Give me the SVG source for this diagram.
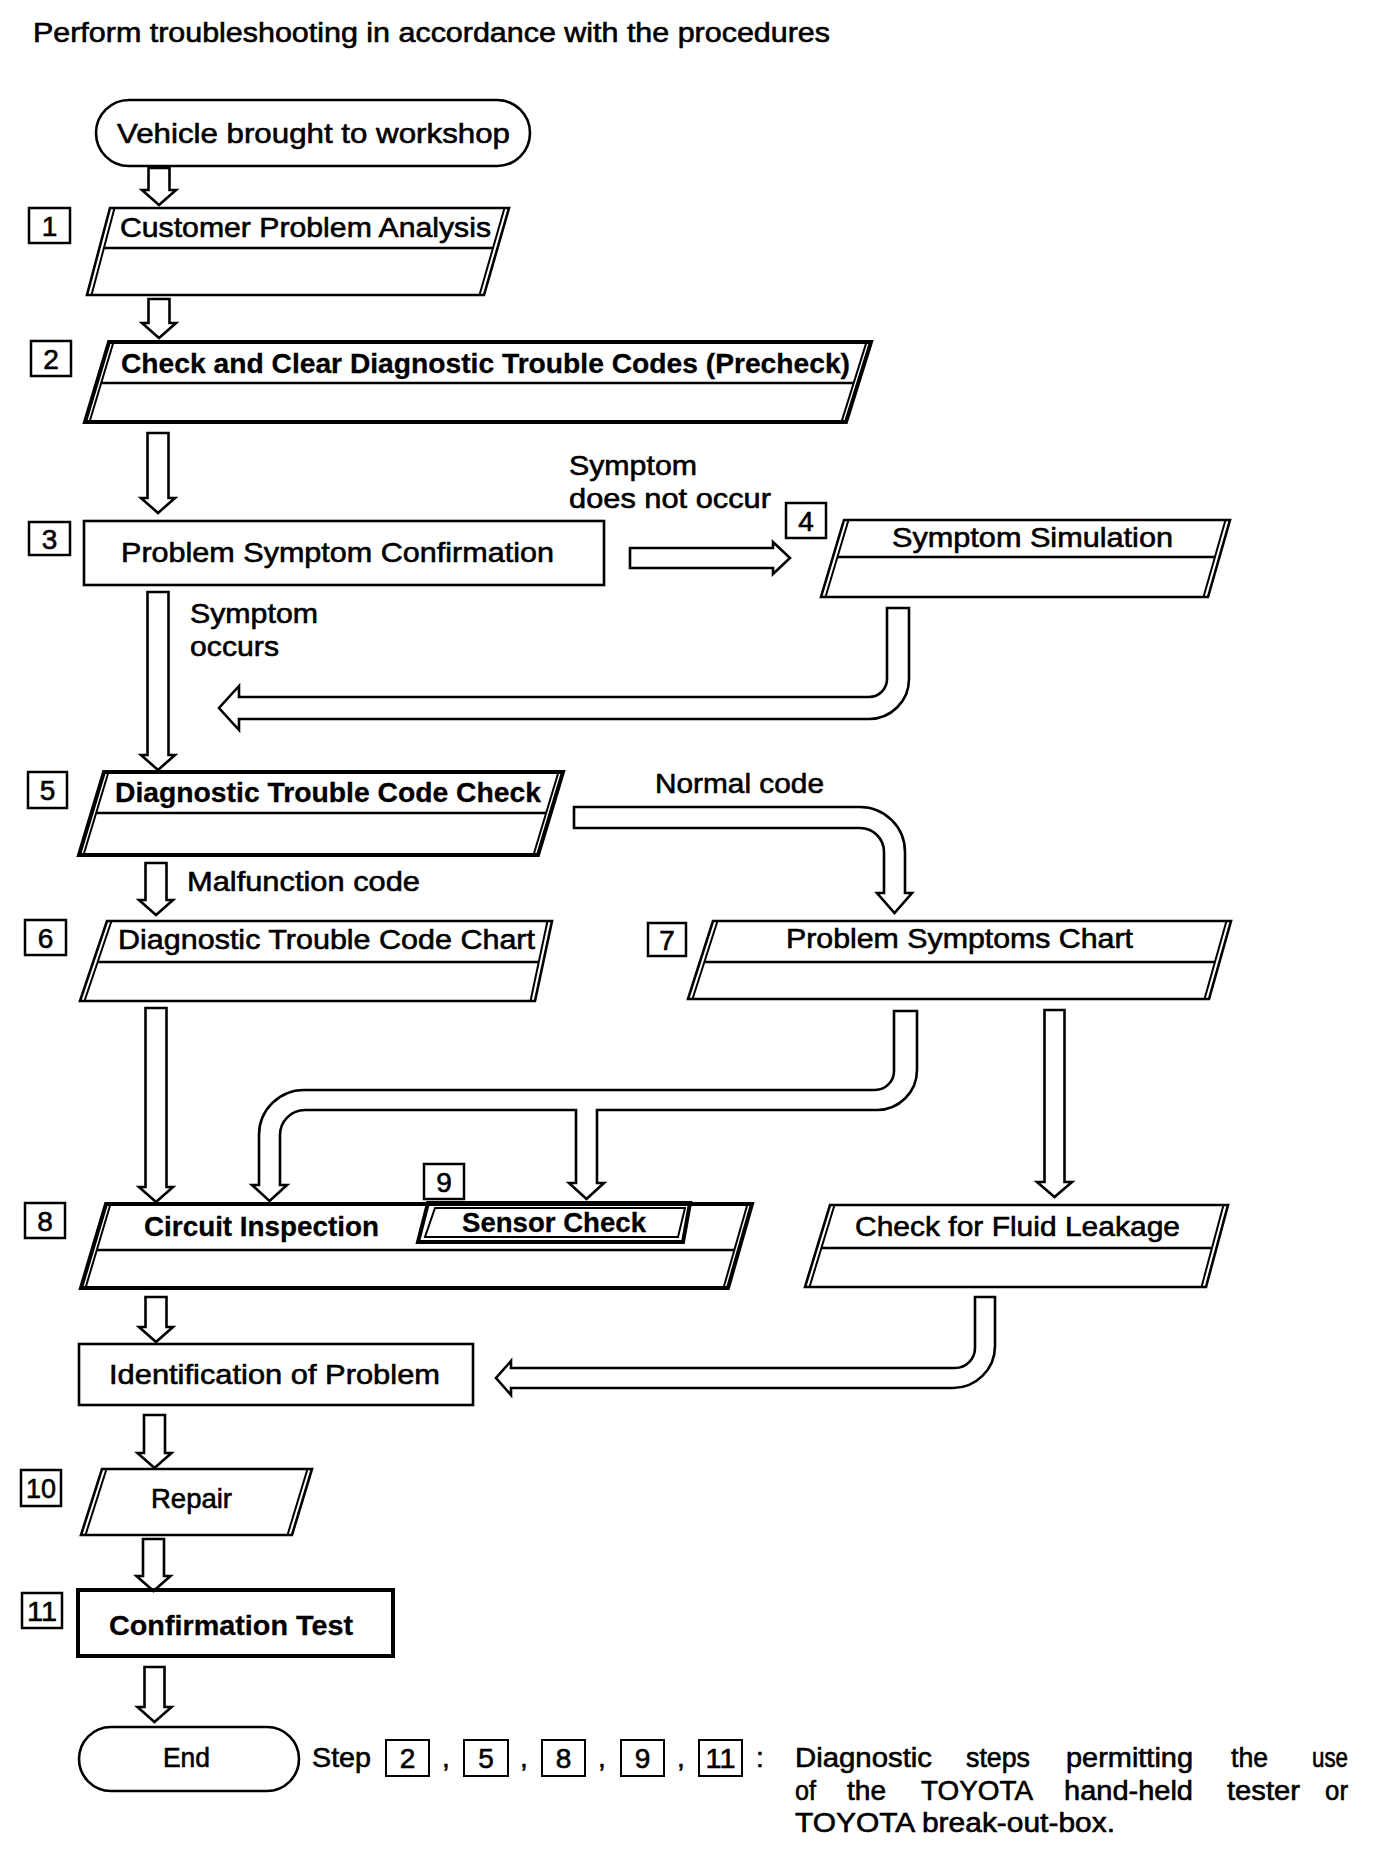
<svg xmlns="http://www.w3.org/2000/svg" width="1376" height="1854" viewBox="0 0 1376 1854">
<style>
text{font-family:"Liberation Sans",Arial,Helvetica,sans-serif;font-size:28px;fill:#000;stroke:#000;stroke-width:0.6}
.b{font-weight:bold;stroke-width:0.3}
.ttl{font-size:27px}
.nt{font-size:27px}
.ln{fill:none;stroke:#000;stroke-width:2.6;stroke-linejoin:miter}
.bl{fill:none;stroke:#000;stroke-width:4;stroke-linejoin:miter}
.sd{fill:none;stroke:#000;stroke-width:2}
.lb{fill:#fff;stroke:#000;stroke-width:2.5}
.arr{fill:#fff;stroke:#000;stroke-width:2.6;stroke-linejoin:miter}
.dg{text-anchor:middle;font-size:28px}
</style>
<rect width="1376" height="1854" fill="#fff"/>
<text class="ttl" x="33" y="42" textLength="797" lengthAdjust="spacingAndGlyphs">Perform troubleshooting in accordance with the procedures</text>

<g id="connectors">
<path class="arr" d="M148.5,168 H169.5 V190 H176 L159,205 L142,190 H148.5 Z"/>
<path class="arr" d="M148.5,299 H169.5 V323 H176 L159,338 L142,323 H148.5 Z"/>
<path class="arr" d="M147.5,433 H168.5 V498 H175 L158,513 L141,498 H147.5 Z"/>
<path class="arr" d="M630,548 H773 V542 L790,558 L773,574 V568 H630 Z"/>
<path class="arr" d="M147.5,592 H168.5 V755 H175 L158,770 L141,755 H147.5 Z"/>
<path class="arr" d="M887,608 H909 V679 A40 40 0 0 1 869,719 H239 V730 L219,708 L239,686 V697 H869 A18 18 0 0 0 887,679 Z"/>
<path class="arr" d="M574,807 H860 A45 45 0 0 1 905,852 V893 H912 L894.5,913 L877,893 H884 V852 A24 24 0 0 0 860,828 H574 Z"/>
<path class="arr" d="M145.5,863 H166.5 V900 H173 L156,915 L139,900 H145.5 Z"/>
<path class="arr" d="M145.5,1008 H166.5 V1187 H173 L156,1202 L139,1187 H145.5 Z"/>
<path class="arr" d="M894,1011 H917 V1070 A40 40 0 0 1 877,1110 H597 V1183 H604 L586.5,1199 L569,1183 H576 V1110 H305 A25 25 0 0 0 280,1135 V1185 H287 L269.5,1201 L252,1185 H259 V1135 A45 45 0 0 1 304,1090 H875 A19 19 0 0 0 894,1071 Z"/>
<path class="arr" d="M1044.5,1010 H1064.5 V1182 H1072 L1054.5,1197 L1037,1182 H1044.5 Z"/>
<path class="arr" d="M145.5,1297 H166.5 V1327 H173 L156,1342 L139,1327 H145.5 Z"/>
<path class="arr" d="M975,1297 H995 V1346 A42 42 0 0 1 953,1388 H511 V1395 L496,1378 L511,1361 V1368 H955 A20 20 0 0 0 975,1348 Z"/>
<path class="arr" d="M144,1415 H165 V1453 H171.5 L154.5,1468 L137.5,1453 H144 Z"/>
<path class="arr" d="M143,1539 H164 V1576 H170.5 L153.5,1591 L136.5,1576 H143 Z"/>
<path class="arr" d="M144.5,1667 H164.5 V1707 H171.5 L154.5,1722 L137.5,1707 H144.5 Z"/>
<text x="569" y="475" textLength="128" lengthAdjust="spacingAndGlyphs">Symptom</text>
<text x="569" y="508" textLength="202" lengthAdjust="spacingAndGlyphs">does not occur</text>
<text x="190" y="623" textLength="128" lengthAdjust="spacingAndGlyphs">Symptom</text>
<text x="190" y="656" textLength="89" lengthAdjust="spacingAndGlyphs">occurs</text>
<text x="655" y="793" textLength="169" lengthAdjust="spacingAndGlyphs">Normal code</text>
<text x="187" y="891" textLength="233" lengthAdjust="spacingAndGlyphs">Malfunction code</text>
</g>

<g id="start">
<rect class="ln" x="96" y="100" width="434" height="66" rx="33"/>
<text x="117" y="143" textLength="393" lengthAdjust="spacingAndGlyphs">Vehicle brought to workshop</text>
</g>

<g id="step1">
<rect class="lb" x="29" y="208" width="41" height="35"/><text class="dg" x="49.5" y="236">1</text>
<polygon class="ln" points="110,208 509,208 484,295 87,295"/>
<line class="sd" x1="114.5" y1="208" x2="91.5" y2="295"/><line class="sd" x1="504.5" y1="208" x2="479.5" y2="295"/>
<line class="ln" x1="103.9" y1="248" x2="493" y2="248"/>
<text x="120" y="237" textLength="371" lengthAdjust="spacingAndGlyphs">Customer Problem Analysis</text>
</g>

<g id="step2">
<rect class="lb" x="31" y="341" width="40" height="35"/><text class="dg" x="51" y="369">2</text>
<polygon class="bl" points="109,342 871,342 846,422 85,422"/>
<line class="sd" x1="113.5" y1="342" x2="89.5" y2="422"/><line class="sd" x1="866.5" y1="342" x2="841.5" y2="422"/>
<line class="ln" x1="101.2" y1="383" x2="853.7" y2="383"/>
<text class="b" x="121" y="373" textLength="729" lengthAdjust="spacingAndGlyphs">Check and Clear Diagnostic Trouble Codes (Precheck)</text>
</g>

<g id="step3">
<rect class="lb" x="29" y="522" width="41" height="33"/><text class="dg" x="49.5" y="549">3</text>
<rect class="ln" x="84" y="521" width="520" height="64"/>
<text x="121" y="562" textLength="433" lengthAdjust="spacingAndGlyphs">Problem Symptom Confirmation</text>
</g>

<g id="step4">
<rect class="lb" x="786" y="503" width="40" height="35"/><text class="dg" x="806" y="531">4</text>
<polygon class="ln" points="844,520 1230,520 1208,597 821,597"/>
<line class="sd" x1="848.5" y1="520" x2="825.5" y2="597"/><line class="sd" x1="1225.5" y1="520" x2="1203.5" y2="597"/>
<line class="ln" x1="837.5" y1="557" x2="1214.9" y2="557"/>
<text x="892" y="547" textLength="281" lengthAdjust="spacingAndGlyphs">Symptom Simulation</text>
</g>

<g id="step5">
<rect class="lb" x="28" y="772" width="39" height="36"/><text class="dg" x="47.5" y="800">5</text>
<polygon class="bl" points="104,772 563,772 538,855 79,855"/>
<line class="sd" x1="108.5" y1="772" x2="83.5" y2="855"/><line class="sd" x1="558.5" y1="772" x2="533.5" y2="855"/>
<line class="ln" x1="96.2" y1="813" x2="546.2" y2="813"/>
<text class="b" x="115" y="802" textLength="426" lengthAdjust="spacingAndGlyphs">Diagnostic Trouble Code Check</text>
</g>

<g id="step6">
<rect class="lb" x="25" y="920" width="41" height="35"/><text class="dg" x="45.5" y="948">6</text>
<polygon class="ln" points="107,921 552,921 535,1001 80,1001"/>
<line class="sd" x1="111.5" y1="921" x2="84.5" y2="1001"/><line class="sd" x1="547.5" y1="921" x2="530.5" y2="1001"/>
<line class="ln" x1="97.7" y1="962" x2="538.8" y2="962"/>
<text x="118" y="949" textLength="417" lengthAdjust="spacingAndGlyphs">Diagnostic Trouble Code Chart</text>
</g>

<g id="step7">
<rect class="lb" x="648" y="923" width="38" height="33"/><text class="dg" x="667" y="950">7</text>
<polygon class="ln" points="713,921 1231,921 1209,999 688,999"/>
<line class="sd" x1="717.5" y1="921" x2="692.5" y2="999"/><line class="sd" x1="1226.5" y1="921" x2="1204.5" y2="999"/>
<line class="ln" x1="704.4" y1="962" x2="1214.9" y2="962"/>
<text x="786" y="948" textLength="347" lengthAdjust="spacingAndGlyphs">Problem Symptoms Chart</text>
</g>

<g id="step8">
<rect class="lb" x="25" y="1203" width="40" height="35"/><text class="dg" x="45" y="1231">8</text>
<polygon class="bl" points="106,1204 752,1204 728,1288 81,1288"/>
<line class="sd" x1="110.5" y1="1204" x2="85.5" y2="1288"/><line class="sd" x1="747.5" y1="1204" x2="723.5" y2="1288"/>
<line class="ln" x1="96.8" y1="1250" x2="734.3" y2="1250"/>
<text class="b" x="144" y="1236" textLength="235" lengthAdjust="spacingAndGlyphs">Circuit Inspection</text>
</g>

<g id="step9">
<rect class="lb" x="424" y="1164" width="40" height="35"/><text class="dg" x="444" y="1192">9</text>
<polygon class="bl" points="428,1203 690,1203 683,1242 418,1242" fill="#fff"/>
<polygon class="sd" points="435,1208 685,1208 678,1237 425,1237"/>
<text class="b" x="462" y="1232" textLength="184" lengthAdjust="spacingAndGlyphs">Sensor Check</text>
</g>

<g id="fluid">
<polygon class="ln" points="830,1205 1228,1205 1206,1287 805,1287"/>
<line class="sd" x1="834.5" y1="1205" x2="809.5" y2="1287"/><line class="sd" x1="1223.5" y1="1205" x2="1201.5" y2="1287"/>
<line class="ln" x1="821.4" y1="1248" x2="1212" y2="1248"/>
<text x="855" y="1236" textLength="325" lengthAdjust="spacingAndGlyphs">Check for Fluid Leakage</text>
</g>

<g id="ident">
<rect class="ln" x="79" y="1344" width="394" height="61"/>
<text x="109" y="1384" textLength="331" lengthAdjust="spacingAndGlyphs">Identification of Problem</text>
</g>

<g id="step10">
<rect class="lb" x="21" y="1470" width="40" height="36"/><text class="dg" x="41" y="1498" textLength="30" lengthAdjust="spacingAndGlyphs">10</text>
<polygon class="ln" points="102,1469 312,1469 292,1535 81,1535"/>
<line class="sd" x1="106.5" y1="1469" x2="85.5" y2="1535"/><line class="sd" x1="307.5" y1="1469" x2="287.5" y2="1535"/>
<text x="151" y="1508" textLength="81" lengthAdjust="spacingAndGlyphs">Repair</text>
</g>

<g id="step11">
<rect class="lb" x="22" y="1593" width="40" height="35"/><text class="dg" x="42" y="1621" textLength="30" lengthAdjust="spacingAndGlyphs">11</text>
<rect class="bl" x="78" y="1590" width="315" height="66"/>
<text class="b" x="109" y="1635" textLength="244" lengthAdjust="spacingAndGlyphs">Confirmation Test</text>
</g>

<g id="end">
<rect class="ln" x="79" y="1727" width="220" height="64" rx="32"/>
<text x="163" y="1767" textLength="47" lengthAdjust="spacingAndGlyphs">End</text>
</g>

<g id="legend">
<text x="312" y="1767" textLength="59" lengthAdjust="spacingAndGlyphs">Step</text>
<rect class="sd" x="386" y="1740" width="43" height="36"/><text class="dg" x="407.5" y="1768">2</text>
<text x="442" y="1767">,</text>
<rect class="sd" x="464" y="1740" width="44" height="36"/><text class="dg" x="486" y="1768">5</text>
<text x="520" y="1767">,</text>
<rect class="sd" x="542" y="1740" width="43" height="36"/><text class="dg" x="563.5" y="1768">8</text>
<text x="598" y="1767">,</text>
<rect class="sd" x="621" y="1740" width="43" height="36"/><text class="dg" x="642.5" y="1768">9</text>
<text x="677" y="1767">,</text>
<rect class="sd" x="699" y="1740" width="43" height="36"/><text class="dg" x="720.5" y="1768" textLength="30" lengthAdjust="spacingAndGlyphs">11</text>
<text x="756" y="1767">:</text>
<text class="nt" x="795" y="1767" textLength="137" lengthAdjust="spacingAndGlyphs">Diagnostic</text>
<text class="nt" x="966" y="1767" textLength="64" lengthAdjust="spacingAndGlyphs">steps</text>
<text class="nt" x="1066" y="1767" textLength="127" lengthAdjust="spacingAndGlyphs">permitting</text>
<text class="nt" x="1231" y="1767" textLength="37" lengthAdjust="spacingAndGlyphs">the</text>
<text class="nt" x="1312" y="1767" textLength="36" lengthAdjust="spacingAndGlyphs">use</text>
<text class="nt" x="795" y="1800" textLength="21" lengthAdjust="spacingAndGlyphs">of</text>
<text class="nt" x="847" y="1800" textLength="39" lengthAdjust="spacingAndGlyphs">the</text>
<text class="nt" x="921" y="1800" textLength="112" lengthAdjust="spacingAndGlyphs">TOYOTA</text>
<text class="nt" x="1064" y="1800" textLength="129" lengthAdjust="spacingAndGlyphs">hand-held</text>
<text class="nt" x="1227" y="1800" textLength="73" lengthAdjust="spacingAndGlyphs">tester</text>
<text class="nt" x="1325" y="1800" textLength="23" lengthAdjust="spacingAndGlyphs">or</text>
<text class="nt" x="795" y="1832" textLength="320" lengthAdjust="spacingAndGlyphs">TOYOTA break-out-box.</text>
</g>
</svg>
